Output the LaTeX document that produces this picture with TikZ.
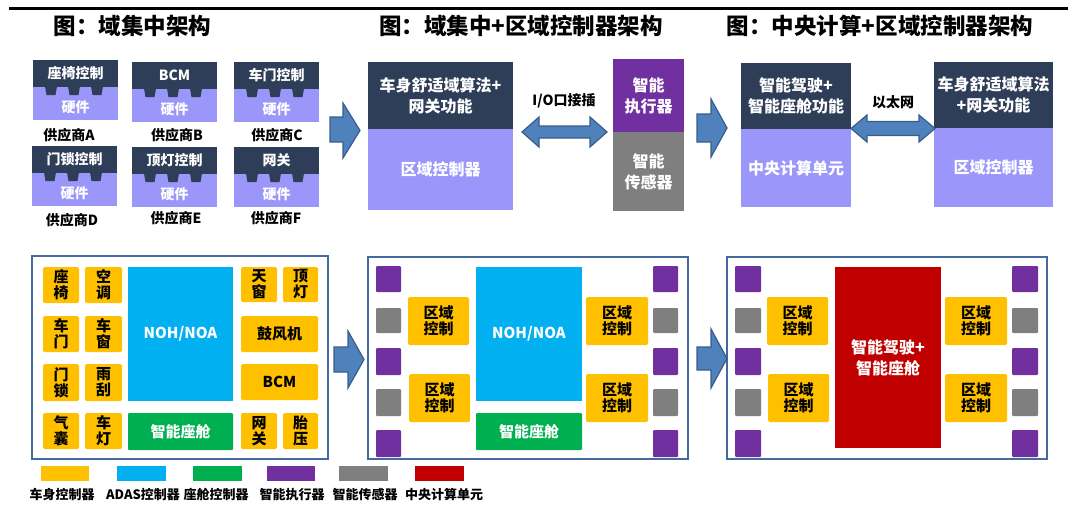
\documentclass[tikz,border=0pt]{standalone}
\usepackage{fontspec}
\setmainfont{Noto Sans CJK SC}
\definecolor{navy}{RGB}{47,62,88}
\definecolor{lav}{RGB}{155,150,250}
\definecolor{cyel}{RGB}{255,192,0}
\definecolor{cblue}{RGB}{0,176,240}
\definecolor{cgreen}{RGB}{0,176,80}
\definecolor{cpurp}{RGB}{112,48,160}
\definecolor{cgray}{RGB}{127,127,127}
\definecolor{cred}{RGB}{192,0,0}
\definecolor{cframe}{RGB}{68,106,158}
\definecolor{arrfill}{RGB}{79,129,189}
\definecolor{arrline}{RGB}{56,93,138}
\tikzset{
 base/.style={inner sep=0pt,outer sep=0pt,font=\bfseries\fontsize{16}{21}\selectfont,text=white,align=center},
 navybox/.style={base,fill=navy},
 lavbox/.style={base,fill=lav},
 ybox/.style={base,fill=cyel,text=black,rounded corners=1.5pt,font=\bfseries\fontsize{15}{16}\selectfont},
 bbox/.style={base,fill=cblue,font=\bfseries\fontsize{15}{18}\selectfont},
 gbox/.style={base,fill=cgreen,rounded corners=1pt,font=\bfseries\fontsize{15}{18}\selectfont},
 pbox/.style={base,fill=cpurp,rounded corners=1pt},
 sbox/.style={base,fill=cgray,rounded corners=1pt},
 rbox/.style={base,fill=cred},
 modtop/.style={navybox,font=\bfseries\fontsize{14}{16}\selectfont},
 modbot/.style={lavbox},
 modtxt/.style={base,font=\bfseries\fontsize{14}{16}\selectfont},
 framebox/.style={draw=cframe,line width=2.5pt,fill=white},
 blockarrow/.style={fill=arrfill,draw=arrline,line width=1.2pt,line join=miter},
 title/.style={inner sep=0pt,font=\bfseries\fontsize{22.5}{24}\selectfont},
 lbl/.style={inner sep=0pt,font=\bfseries\fontsize{14}{16}\selectfont},
 leglbl/.style={inner sep=0pt,font=\bfseries\fontsize{13}{15}\selectfont},
}
\newcommand\Bx[7]{%
 \pgfmathsetmacro\bxw{#4-#2}\pgfmathsetmacro\bxh{#5-#3}%
 \node[#6,anchor=north west,minimum width=\bxw pt,minimum height=\bxh pt] (#1) at (#2,#3) {#7};}
\newcommand\Mod[4]{%
 \node[modtop,anchor=north west,minimum width=85pt,minimum height=27pt] (#1t) at (#2,#3) {#4};
 \node[modbot,anchor=north west,minimum width=85pt,minimum height=33pt] (#1b) at (#1t.south west) {};
 \node[modtxt] (#1h) at ([yshift=-3.5pt]#1b.center) {硬件};
 \foreach \o in {12,35,58} {\fill[navy] ([xshift=\o pt,yshift=0.5pt]#1t.south west) -- ++(12pt,0) -- ++(-1.5pt,-8.5pt) -- ++(-9pt,0) -- cycle;}
}
\begin{document}
\begin{tikzpicture}[x=1pt,y=-1pt]
\useasboundingbox (0,0) rectangle (1075,507);
% top rule
\draw[line width=3pt] (9,8.5) -- (1068,8.5);
% titles
\node[title] (t1) at (132.5,26) {图：域集中架构};
\node[title] (t2) at (521,26) {图：域集中+区域控制器架构};
\node[title] (t3) at (880,26) {图：中央计算+区域控制器架构};
% modules
\Mod{ma}{33}{60}{座椅控制}
\Mod{mb}{132}{62}{BCM}
\Mod{mc}{234}{62}{车门控制}
\Mod{md}{32}{146}{门锁控制}
\Mod{me}{132}{147}{顶灯控制}
\Mod{mf}{234}{147}{网关}
\node[lbl] (sa) at (69,135) {供应商A};
\node[lbl] (sb) at (177,135) {供应商B};
\node[lbl] (sc) at (277,135) {供应商C};
\node[lbl] (sd) at (72,220) {供应商D};
\node[lbl] (se) at (176,218) {供应商E};
\node[lbl] (sf) at (276,218) {供应商F};
% top arrows
\draw[blockarrow] (330,117) -- (343,117) -- (343,103) -- (360,130.5) -- (343,158) -- (343,142) -- (330,142) -- cycle;
\draw[blockarrow] (697,114) -- (711,114) -- (711,99) -- (727,128) -- (711,157) -- (711,142) -- (697,142) -- cycle;
% top middle
\Bx{zt}{368}{62}{513}{129}{navybox}{车身舒适域算法+\\网关功能}
\Bx{zb}{368}{129}{513}{210}{lavbox}{区域控制器}
\Bx{act}{613}{59}{684}{132}{base,fill=cpurp}{智能\\执行器}
\Bx{sen}{613}{132}{684}{211}{base,fill=cgray}{智能\\传感器}
\draw[blockarrow] (522,132) -- (539,117) -- (539,126) -- (590,126) -- (590,117) -- (607,132) -- (590,147) -- (590,138) -- (539,138) -- (539,147) -- cycle;
\node[lbl] (io) at (564,101) {I/O口接插};
% top right
\Bx{ct}{741}{63}{851}{129}{navybox}{智能驾驶+\\智能座舱功能}
\Bx{cb}{741}{129}{851}{207}{lavbox}{中央计算单元}
\Bx{rt}{934}{62}{1053}{128}{navybox}{车身舒适域算法\\+网关功能}
\Bx{rb}{934}{128}{1053}{207}{lavbox}{区域控制器}
\draw[blockarrow] (851,128.5) -- (867,115) -- (867,121.5) -- (919,121.5) -- (919,115) -- (935,128.5) -- (919,142) -- (919,135.5) -- (867,135.5) -- (867,142) -- cycle;
\node[lbl] (eth) at (893,102) {以太网};
% bottom frames
\draw[framebox] (32,256) rectangle (328,459);
\draw[framebox] (368,257) rectangle (688,459);
\draw[framebox] (727,257) rectangle (1047,459);
% frame 1
\Bx{a1}{43}{267}{79}{303}{ybox}{座\\椅}
\Bx{a2}{85}{267}{122}{303}{ybox}{空\\调}
\Bx{a3}{43}{316}{79}{352}{ybox}{车\\门}
\Bx{a4}{85}{316}{122}{352}{ybox}{车\\窗}
\Bx{a5}{43}{364}{79}{401}{ybox}{门\\锁}
\Bx{a6}{85}{364}{122}{401}{ybox}{雨\\刮}
\Bx{a7}{43}{413}{79}{449}{ybox}{气\\囊}
\Bx{a8}{85}{413}{122}{449}{ybox}{车\\灯}
\Bx{ab}{128}{267}{233}{401}{bbox}{NOH/NOA}
\Bx{ag}{128}{413}{233}{450}{gbox}{智能座舱}
\Bx{a9}{241}{267}{277}{302}{ybox}{天\\窗}
\Bx{a10}{283}{267}{318}{302}{ybox}{顶\\灯}
\Bx{a11}{241}{316}{318}{352}{ybox}{鼓风机}
\Bx{a12}{241}{364}{318}{400}{ybox}{BCM}
\Bx{a13}{241}{413}{277}{449}{ybox}{网\\关}
\Bx{a14}{283}{413}{318}{449}{ybox}{胎\\压}
% frame 2
\Bx{b1}{376}{266}{401}{292}{pbox}{}
\Bx{b2}{376}{308}{401}{333}{sbox}{}
\Bx{b3}{376}{348}{401}{375}{pbox}{}
\Bx{b4}{376}{389}{401}{416}{sbox}{}
\Bx{b5}{376}{430}{401}{457}{pbox}{}
\Bx{b6}{653}{266}{678}{292}{pbox}{}
\Bx{b7}{653}{308}{678}{333}{sbox}{}
\Bx{b8}{653}{348}{678}{375}{pbox}{}
\Bx{b9}{653}{389}{678}{416}{sbox}{}
\Bx{b10}{653}{430}{678}{457}{pbox}{}
\Bx{bz1}{408}{297}{469}{345}{ybox}{区域\\控制}
\Bx{bz2}{409}{374}{470}{422}{ybox}{区域\\控制}
\Bx{bz3}{586}{297}{648}{345}{ybox}{区域\\控制}
\Bx{bz4}{586}{374}{648}{422}{ybox}{区域\\控制}
\Bx{bb}{476}{267}{582}{401}{bbox}{NOH/NOA}
\Bx{bg}{476}{413}{582}{450}{gbox}{智能座舱}
% frame 3
\Bx{c1}{735}{266}{761}{292}{pbox}{}
\Bx{c2}{735}{308}{761}{333}{sbox}{}
\Bx{c3}{735}{348}{761}{375}{pbox}{}
\Bx{c4}{735}{389}{761}{416}{sbox}{}
\Bx{c5}{735}{430}{761}{457}{pbox}{}
\Bx{c6}{1012}{266}{1038}{292}{pbox}{}
\Bx{c7}{1012}{308}{1038}{333}{sbox}{}
\Bx{c8}{1012}{348}{1038}{375}{pbox}{}
\Bx{c9}{1012}{389}{1038}{416}{sbox}{}
\Bx{c10}{1012}{430}{1038}{457}{pbox}{}
\Bx{cz1}{767}{297}{828}{345}{ybox}{区域\\控制}
\Bx{cz2}{768}{374}{829}{422}{ybox}{区域\\控制}
\Bx{cz3}{945}{297}{1007}{345}{ybox}{区域\\控制}
\Bx{cz4}{945}{374}{1007}{422}{ybox}{区域\\控制}
\Bx{cr}{835}{267}{941}{448}{rbox}{智能驾驶+\\智能座舱}
% bottom arrows
\draw[blockarrow] (334,347) -- (348,347) -- (348,331) -- (364,359.5) -- (348,388) -- (348,372) -- (334,372) -- cycle;
\draw[blockarrow] (697,347) -- (711,347) -- (711,329) -- (727,358.5) -- (711,388) -- (711,370) -- (697,370) -- cycle;
% legend
\Bx{l1}{41}{466}{89}{481}{base,fill=cyel}{}
\Bx{l2}{117}{466}{166}{481}{base,fill=cblue}{}
\Bx{l3}{193}{466}{242}{481}{base,fill=cgreen}{}
\Bx{l4}{267}{466}{315}{481}{base,fill=cpurp}{}
\Bx{l5}{339}{466}{388}{481}{base,fill=cgray}{}
\Bx{l6}{415}{466}{464}{481}{base,fill=cred}{}
\node[leglbl] (lt1) at (62,495) {车身控制器};
\node[leglbl] (lt2) at (143,495) {ADAS控制器};
\node[leglbl] (lt3) at (216,495) {座舱控制器};
\node[leglbl] (lt4) at (292,495) {智能执行器};
\node[leglbl] (lt5) at (365,495) {智能传感器};
\node[leglbl] (lt6) at (444,495) {中央计算单元};
\end{tikzpicture}
\end{document}
